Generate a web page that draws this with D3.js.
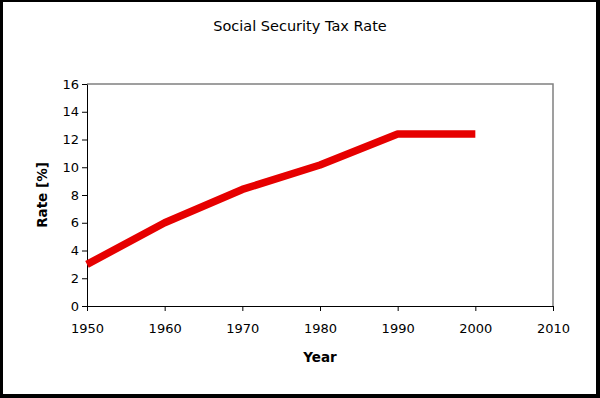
<!DOCTYPE html>
<html>
<head>
<meta charset="utf-8">
<script src="https://cdn.jsdelivr.net/npm/d3@7"></script>
<style>
html,body{margin:0;padding:0;background:#000;}
svg{display:block;}
</style>
</head>
<body>
<script>
const years = [1950, 1960, 1970, 1980, 1990, 2000];
const rates = [3.0, 6.0, 8.4, 10.16, 12.4, 12.4];
const xTicks = [1950, 1960, 1970, 1980, 1990, 2000, 2010];
const yTicks = [0, 2, 4, 6, 8, 10, 12, 14, 16];
const title = "Social Security Tax Rate";
const xLabel = "Year";
const yLabel = "Rate [%]";

(function () {
const W = 600, H = 398;
const font = "'DejaVu Sans', Verdana, sans-serif";
const svg = d3.select("body").append("svg").attr("width", W).attr("height", H);

// frame
svg.append("rect").attr("x", 0).attr("y", 0).attr("width", W).attr("height", H).attr("fill", "#000");
svg.append("rect").attr("x", 3).attr("y", 2).attr("width", W - 7).attr("height", H - 6).attr("fill", "#fff");

const pL = 87, pR = 553, pT = 84, pB = 306;
const x = d3.scaleLinear().domain([1950, 2010]).range([pL, pR]);
const y = d3.scaleLinear().domain([0, 16]).range([pB, pT]);

// plot border (top and right grey)
svg.append("path")
  .attr("d", `M${pL},${pT}H${pR}V${pB}`)
  .attr("fill", "none").attr("stroke", "#808080").attr("stroke-width", 1.5);

const xAxis = svg.append("g").attr("transform", `translate(0,${pB})`)
  .call(d3.axisBottom(x).tickValues(xTicks).tickFormat(d3.format("d")).tickSize(5).tickSizeOuter(0).tickPadding(13));
const yAxis = svg.append("g").attr("transform", `translate(${pL},0)`)
  .call(d3.axisLeft(y).tickValues(yTicks).tickSize(5).tickSizeOuter(0).tickPadding(3));
[xAxis, yAxis].forEach(g => {
  g.selectAll("path,line").attr("stroke", "#000").attr("stroke-width", 1);
  g.selectAll("text").attr("font-family", font).attr("font-size", 13).attr("fill", "#000");
});

// line
svg.append("path")
  .datum(years.map((d, i) => [d, rates[i]]))
  .attr("d", d3.line().x(d => x(d[0])).y(d => y(d[1])))
  .attr("fill", "none").attr("stroke", "#e60000").attr("stroke-width", 7.5)
  .attr("stroke-linejoin", "round");

svg.append("text").attr("x", 300).attr("y", 31).attr("text-anchor", "middle")
  .attr("font-family", font).attr("font-size", 14.5).attr("fill", "#000").text(title);
svg.append("text").attr("x", (pL + pR) / 2).attr("y", 362).attr("text-anchor", "middle")
  .attr("font-family", font).attr("font-size", 13.5).attr("font-weight", "bold").attr("fill", "#000").text(xLabel);
svg.append("text").attr("transform", `translate(47,${(pT + pB) / 2}) rotate(-90)`).attr("text-anchor", "middle")
  .attr("font-family", font).attr("font-size", 13.5).attr("font-weight", "bold").attr("fill", "#000").text(yLabel);
})();
</script>
</body>
</html>
